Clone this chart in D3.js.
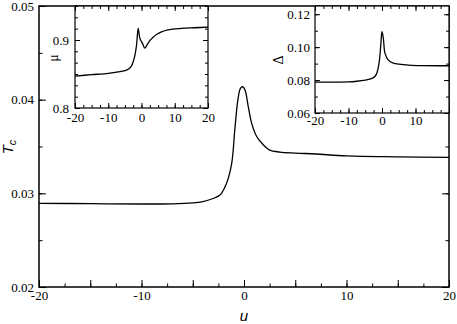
<!DOCTYPE html>
<html>
<head>
<meta charset="utf-8">
<script src="https://cdn.jsdelivr.net/npm/d3@7"></script>
<style>
body { margin: 0; background: white; }
svg text { font-family: "Liberation Serif", "Times New Roman", serif; font-size: 13px; fill: black; }
.tick line { stroke: black; stroke-width: 1; }
</style>
</head>
<body>
<div id="chart"></div>
<script>
// MAIN CURVE: Tc vs u
const uTc = [-20, -15, -10, -7, -5, -4, -3, -2.5, -2.2, -1.7, -1.2, -0.9, -0.6, -0.35, -0.13, 0.1, 0.42, 0.75, 1.25, 1.75, 2.5, 3.5, 5, 7, 10, 15, 20];
const tc = [0.02893, 0.0289, 0.02886, 0.02888, 0.02898, 0.02912, 0.02945, 0.0297, 0.03, 0.03107, 0.0332, 0.03676, 0.03996, 0.0412, 0.04138, 0.04102, 0.03924, 0.03747, 0.03604, 0.03534, 0.03462, 0.03441, 0.0343, 0.0342, 0.034, 0.0339, 0.03384];

// INSET 1: mu vs u
const uMu = [-20, -15, -10, -7, -5, -4, -3, -2.5, -2, -1.5, -1.0, -0.6, -0.3, 0.3, 1.0, 1.7, 2.5, 3.5, 4.5, 6, 8, 12, 16, 20];
const mu = [0.847, 0.849, 0.851, 0.853, 0.855, 0.857, 0.862, 0.868, 0.877, 0.892, 0.917, 0.905, 0.9, 0.895, 0.888, 0.893, 0.899, 0.904, 0.908, 0.912, 0.915, 0.917, 0.918, 0.919];

// INSET 2: Delta vs u
const uDelta = [-20, -15, -10, -7.5, -5, -3, -2, -1.5, -0.9, -0.4, 0, 0.4, 0.9, 1.9, 3.4, 5, 8, 12, 20];
const delta = [0.0788, 0.0788, 0.0789, 0.0793, 0.08, 0.081, 0.0825, 0.0845, 0.09, 0.1002, 0.1094, 0.1054, 0.0962, 0.0921, 0.0903, 0.0897, 0.0891, 0.0888, 0.0887];

// TICK LABELS
const mainXLabels = [-20, -10, 0, 10, 20];
const mainYLabels = [0.02, 0.03, 0.04, 0.05];
const muXLabels = [-20, -10, 0, 10, 20];
const muYLabels = [0.8, 0.9];
const deltaXLabels = [-20, -10, 0, 10];
const deltaYLabels = [0.06, 0.08, 0.10, 0.12];

const width = 457, height = 324;
const serif = '"Liberation Serif", "Times New Roman", serif';

const svg = d3.select('#chart')
    .append('svg')
    .attr('width', width)
    .attr('height', height);

// DRAW ONE PANEL: box, inward ticks, labels, curve
function panel(o) {
    const x = d3.scaleLinear().domain(o.xDomain).range([o.left, o.right]);
    const y = d3.scaleLinear().domain(o.yDomain).range([o.bottom, o.top]);
    const g = svg.append('g');

    g.append('rect')
        .attr('x', o.left).attr('y', o.top)
        .attr('width', o.right - o.left).attr('height', o.bottom - o.top)
        .attr('fill', 'white').attr('stroke', 'black').attr('stroke-width', o.box);

    const addAxis = (axis, tr) => {
        const a = g.append('g').attr('transform', tr).call(axis);
        a.select('.domain').remove();
        a.attr('font-family', serif).attr('font-size', 13);
        return a;
    };

    // minor ticks
    addAxis(d3.axisBottom(x).tickValues(o.xMinor).tickSize(-o.minor).tickFormat(''), `translate(0,${o.bottom})`);
    addAxis(d3.axisLeft(y).tickValues(o.yMinor).tickSize(-o.minor).tickFormat(''), `translate(${o.left},0)`);
    addAxis(d3.axisRight(y).tickValues(o.yMinor).tickSize(-o.minor).tickFormat(''), `translate(${o.right},0)`);
    // major ticks + labels
    addAxis(d3.axisBottom(x).tickValues(o.xMajor).tickSize(-o.major).tickFormat(''), `translate(0,${o.bottom})`);
    addAxis(d3.axisLeft(y).tickValues(o.yMajor).tickSize(-o.major).tickFormat(''), `translate(${o.left},0)`);
    addAxis(d3.axisRight(y).tickValues(o.yMajor).tickSize(-o.major).tickFormat(''), `translate(${o.right},0)`);
    addAxis(d3.axisBottom(x).tickValues(o.xLabels).tickSize(0).tickPadding(o.xPad).tickFormat(d => String(d)), `translate(0,${o.bottom})`);
    addAxis(d3.axisLeft(y).tickValues(o.yLabels).tickSize(0).tickPadding(o.yPad).tickFormat(d3.format(o.yFmt)), `translate(${o.left},0)`);
    if (o.topTicks) {
        addAxis(d3.axisTop(x).tickValues(o.xMinor).tickSize(-o.minor).tickFormat(''), `translate(0,${o.top})`);
        addAxis(d3.axisTop(x).tickValues(o.xMajor).tickSize(-o.major).tickFormat(''), `translate(0,${o.top})`);
    }

    const line = d3.line()
        .x(d => x(d[0]))
        .y(d => y(d[1]))
        .curve(d3.curveCatmullRom.alpha(0.5));

    g.append('path')
        .datum(o.xs.map((v, i) => [v, o.ys[i]]))
        .attr('fill', 'none')
        .attr('stroke', 'black')
        .attr('stroke-width', 1.3)
        .attr('d', line);
    return g;
}

const steps = (a, b, s) => d3.range(a, b + s / 2, s);

// MAIN PLOT
panel({
    left: 39, right: 449, top: 6, bottom: 287, box: 1.5,
    xDomain: [-20, 20], yDomain: [0.02, 0.05],
    xMajor: steps(-20, 20, 5), xMinor: steps(-20, 20, 2.5),
    yMajor: mainYLabels, yMinor: steps(0.02, 0.05, 0.005),
    major: 7, minor: 3.5,
    xLabels: mainXLabels, yLabels: mainYLabels, yFmt: '.2f', xPad: 4, yPad: 5,
    xs: uTc, ys: tc, topTicks: false
});

// INSET MU
panel({
    left: 75, right: 208, top: 6, bottom: 108, box: 1.2,
    xDomain: [-20, 20], yDomain: [0.8, 0.95],
    xMajor: steps(-20, 20, 10), xMinor: steps(-20, 20, 2.5),
    yMajor: muYLabels, yMinor: steps(0.8, 0.95, 0.1 / 6),
    major: 5, minor: 3,
    xLabels: muXLabels, yLabels: muYLabels, yFmt: '.1f', xPad: 5, yPad: 6,
    xs: uMu, ys: mu, topTicks: true
});

// INSET DELTA
panel({
    left: 315, right: 449, top: 6, bottom: 113, box: 1.2,
    xDomain: [-20, 20], yDomain: [0.06, 0.125],
    xMajor: steps(-20, 20, 10), xMinor: steps(-20, 20, 2.5),
    yMajor: deltaYLabels, yMinor: steps(0.06, 0.125, 0.01),
    major: 5, minor: 3,
    xLabels: deltaXLabels, yLabels: deltaYLabels, yFmt: '.2f', xPad: 3, yPad: 5,
    xs: uDelta, ys: delta, topTicks: true
});

// AXIS TITLES
const tTitle = svg.append('text')
    .attr('transform', 'translate(13,147) rotate(-90)')
    .attr('text-anchor', 'middle')
    .style('font-family', '"Liberation Sans", Arial, sans-serif')
    .style('font-style', 'italic')
    .style('font-size', '15px');
tTitle.append('tspan').text('T');
tTitle.append('tspan').attr('dy', 3).style('font-size', '11px').text('c');

svg.append('text')
    .attr('x', 244).attr('y', 321)
    .attr('text-anchor', 'middle')
    .style('font-family', '"Liberation Sans", Arial, sans-serif')
    .style('font-style', 'italic')
    .style('font-size', '15px')
    .text('u');

svg.append('text')
    .attr('transform', 'translate(58,58) rotate(-90)')
    .attr('text-anchor', 'middle')
    .style('font-size', '14px')
    .text('μ');

svg.append('text')
    .attr('transform', 'translate(283,60) rotate(-90)')
    .attr('text-anchor', 'middle')
    .style('font-size', '14px')
    .text('Δ');
</script>
</body>
</html>
